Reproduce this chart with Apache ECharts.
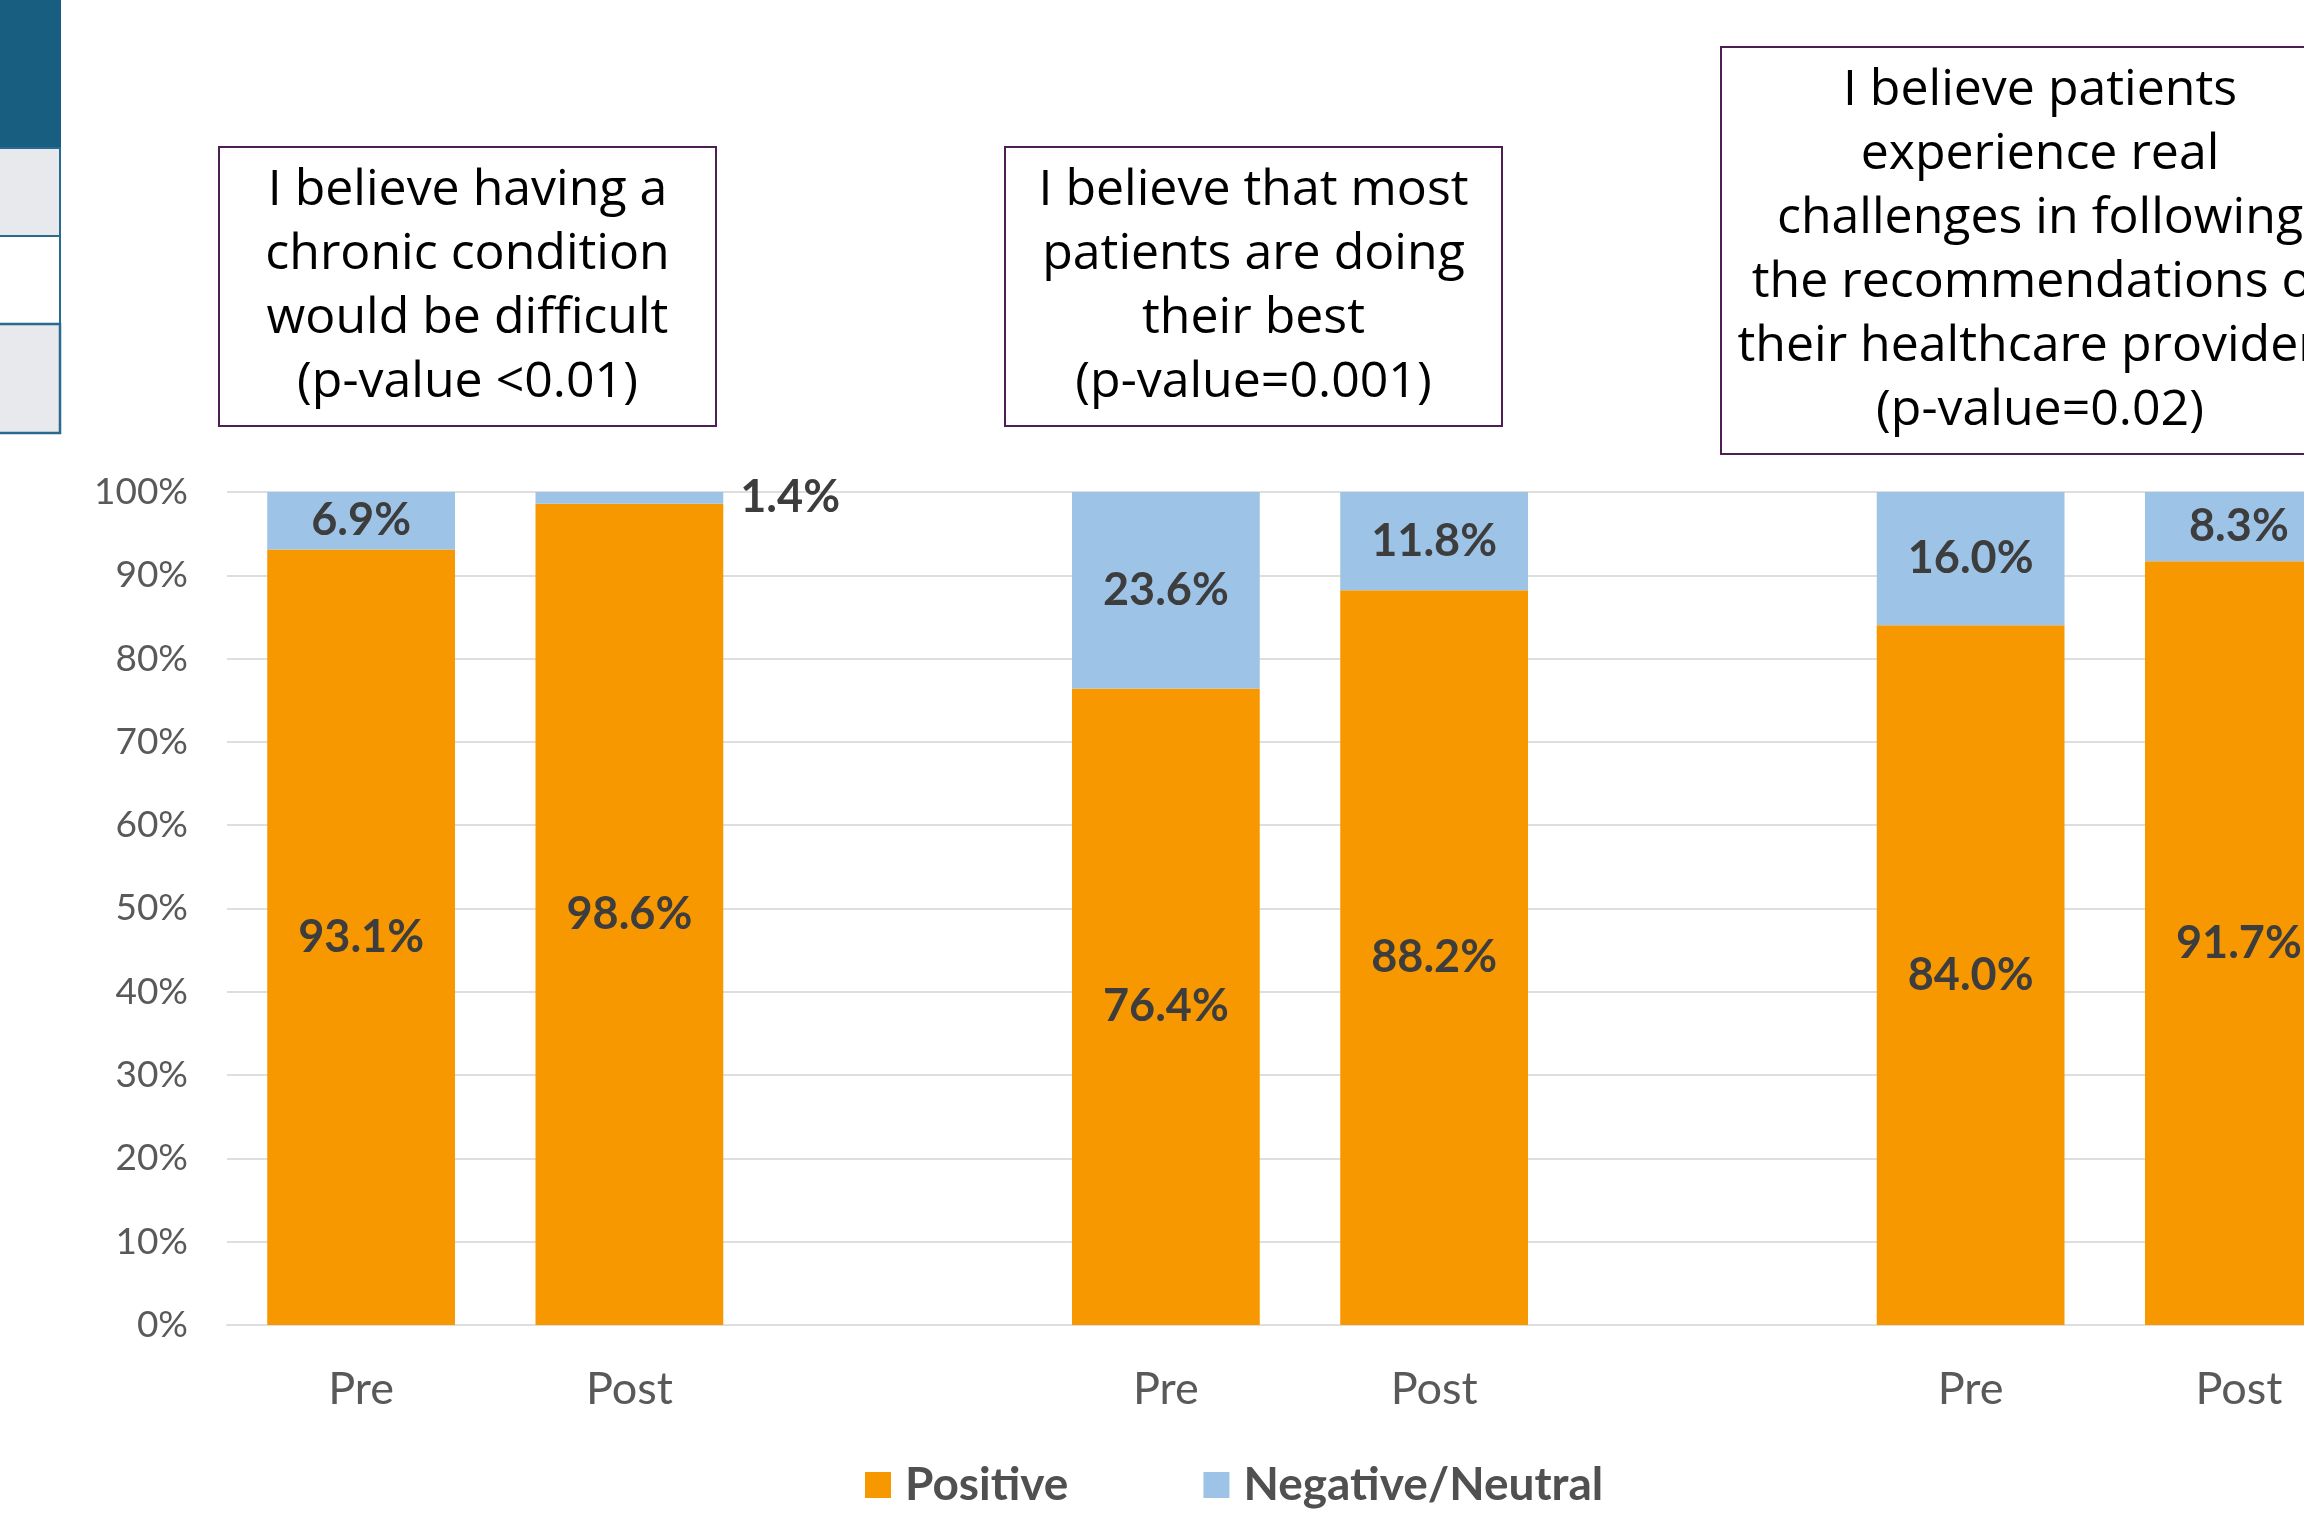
<!DOCTYPE html>
<html>
<head>
<meta charset="utf-8">
<script src="https://cdn.jsdelivr.net/npm/echarts@6/dist/echarts.min.js"></script>
<style>
  html, body { margin: 0; padding: 0; overflow: hidden; background: #ffffff; }
  #chart { width: 2400px; height: 1520px; }
</style>
</head>
<body>
<div id="chart"></div>
<script>
// Survey responses, Pre vs Post, for three belief statements (blank slots separate the groups)
const categories = ['Pre', 'Post', '', 'Pre', 'Post', '', 'Pre', 'Post'];
const positive = [93.1, 98.6, null, 76.4, 88.2, null, 84.0, 91.7];
const negativeNeutral = [6.9, 1.4, null, 23.6, 11.8, null, 16.0, 8.3];
const seriesNames = ['Positive', 'Negative/Neutral'];
const yAxisMin = 0;
const yAxisMax = 100;
const yAxisStep = 10;

// Statement captions shown above each Pre/Post pair
const statementLines = [
  ['I believe having a', 'chronic condition', 'would be difficult', '(p-value <0.01)'],
  ['I believe that most', 'patients are doing', 'their best', '(p-value=0.001)'],
  ['I believe patients', 'experience real', 'challenges in following', 'the recommendations of', 'their healthcare providers', '(p-value=0.02)']
];

const ORANGE = '#F79800';
const BLUE = '#9DC3E6';
const LABEL_COLOR = '#3d3d3d';
const AXIS_TEXT = '#595959';
const GRID_COLOR = '#dedede';
const BOX_STROKE = '#4E1F52';

const chart = echarts.init(document.getElementById('chart'), null, { renderer: 'canvas' });

const pctLabel = function (p) { return Number(p.value).toFixed(1) + '%'; };

const barLabel = {
  show: true,
  position: 'inside',
  formatter: pctLabel,
  fontFamily: 'Lato',
  fontWeight: 'bold',
  fontSize: 45,
  color: LABEL_COLOR
};

// Very thin segments carry their label beside the bar instead of inside it
const negData = negativeNeutral.map(function (v) {
  if (v !== null && v < 5) {
    return { value: v, label: { position: 'right', distance: 17 } };
  }
  return v;
});

// Caption boxes
const boxes = [
  { x: 219, y: 147, w: 497, h: 279, cx: 467.5 },
  { x: 1005, y: 147, w: 497, h: 279, cx: 1253.5 },
  { x: 1721, y: 47, w: 638, h: 407, cx: 2040 }
];
const graphics = [];
boxes.forEach(function (b, i) {
  graphics.push({
    type: 'rect',
    shape: { x: b.x, y: b.y, width: b.w, height: b.h },
    style: { fill: '#ffffff', stroke: BOX_STROKE, lineWidth: 2 },
    z: 10
  });
  graphics.push({
    type: 'text',
    x: b.cx,
    y: b.y + b.h / 2,
    style: {
      text: statementLines[i].join('\n'),
      align: 'center',
      verticalAlign: 'middle',
      fontFamily: '"Open Sans"',
      fontSize: 50,
      lineHeight: 64,
      fill: '#000000'
    },
    z: 11
  });
});

// Edge of the neighbouring summary table at the top-left
graphics.push(
  { type: 'rect', shape: { x: 0, y: 0, width: 61, height: 148 }, style: { fill: '#175E80' }, z: 5 },
  { type: 'rect', shape: { x: -2, y: 148, width: 62, height: 88 }, style: { fill: '#E7E9EC', stroke: '#2A6A90', lineWidth: 2 }, z: 5 },
  { type: 'rect', shape: { x: -2, y: 236, width: 62, height: 88 }, style: { fill: '#ffffff', stroke: '#2A6A90', lineWidth: 2 }, z: 5 },
  { type: 'rect', shape: { x: -2, y: 324, width: 62, height: 109 }, style: { fill: '#E7E9EC', stroke: '#2A6A90', lineWidth: 2.5 }, z: 5 }
);

const option = {
  backgroundColor: '#ffffff',
  animation: false,
  grid: { left: 227, right: 27, top: 492, bottom: 195, containLabel: false },
  legend: {
    data: seriesNames,
    left: 860,
    top: 1457,
    icon: 'rect',
    itemWidth: 26,
    itemHeight: 26,
    itemGap: 135,
    textStyle: {
      fontFamily: 'Lato',
      fontWeight: 'bold',
      fontSize: 46,
      color: '#505050',
      padding: [0, 0, 0, 9]
    }
  },
  xAxis: {
    type: 'category',
    data: categories,
    axisTick: { show: false },
    axisLine: { show: true, lineStyle: { color: GRID_COLOR, width: 2 } },
    axisLabel: {
      fontFamily: 'Lato',
      fontSize: 45,
      color: AXIS_TEXT,
      margin: 42
    }
  },
  yAxis: {
    type: 'value',
    min: yAxisMin,
    max: yAxisMax,
    interval: yAxisStep,
    axisLine: { show: false },
    axisTick: { show: false },
    splitLine: { lineStyle: { color: GRID_COLOR, width: 2 } },
    axisLabel: {
      formatter: '{value}%',
      fontFamily: 'Lato',
      fontSize: 37,
      color: AXIS_TEXT,
      margin: 39
    }
  },
  series: [
    {
      name: seriesNames[0],
      type: 'bar',
      stack: 'total',
      barCategoryGap: '30%',
      data: positive,
      itemStyle: { color: ORANGE },
      label: barLabel
    },
    {
      name: seriesNames[1],
      type: 'bar',
      stack: 'total',
      barCategoryGap: '30%',
      data: negData,
      itemStyle: { color: BLUE },
      label: barLabel
    }
  ],
  graphic: graphics
};

chart.setOption(option);
</script>
</body>
</html>
